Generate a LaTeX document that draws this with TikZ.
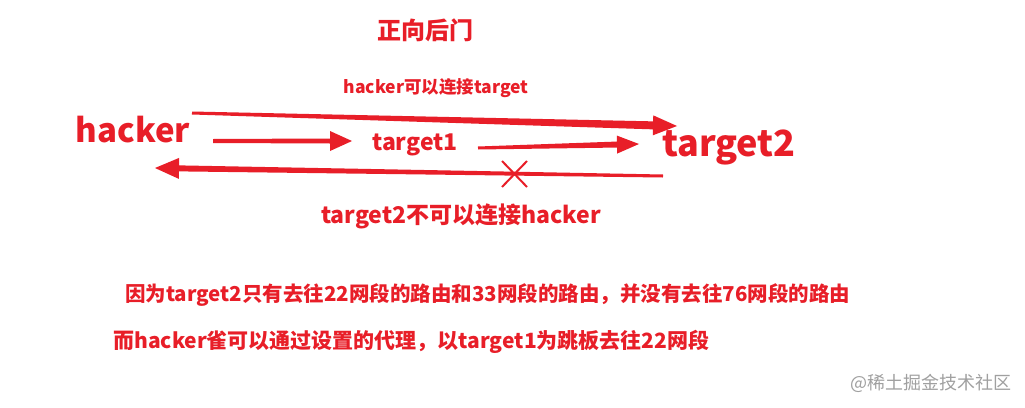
\documentclass[tikz,border=0pt]{standalone}
\usepackage{fontspec}
\setmainfont{Noto Sans CJK SC}
\usetikzlibrary{calc}
\definecolor{rd}{RGB}{232,30,40}
\definecolor{wm}{RGB}{160,160,160}
\newcommand\redarrow[6]{%
  \coordinate (hb) at ($(#2)!#5!(#1)$);
  \fill[rd] ($(#1)!#3!90:(#2)$) -- ($(hb)!#4!90:(#2)$) -- ($(hb)!#6!90:(#2)$) -- (#2)
    -- ($(hb)!#6!-90:(#2)$) -- ($(hb)!#4!-90:(#2)$) -- ($(#1)!#3!-90:(#2)$) -- cycle;
}
\tikzset{
  lbl/.style={text=rd, font=\bfseries, inner sep=0pt, anchor=center},
  cross/.style={draw=rd, line width=2pt},
}
\begin{document}
\begin{tikzpicture}[x=1pt,y=-1pt]
\useasboundingbox[fill=white] (0,0) rectangle (1025,407);
\node[lbl, font=\bfseries\fontsize{24}{28}\selectfont] (title) at (425,30) {正向后门};
\node[lbl, font=\bfseries\fontsize{17.5}{20}\selectfont] (l1) at (436,88) {hacker可以连接target};
\node[lbl, font=\bfseries\fontsize{33}{40}\selectfont] (hacker) at (133,130) {hacker};
\node[lbl, font=\bfseries\fontsize{23}{26}\selectfont] (t1) at (415,145) {target1};
\node[lbl, font=\bfseries\fontsize{36}{40}\selectfont] (t2) at (729,147) {target2};
\node[lbl, font=\bfseries\fontsize{23}{26}\selectfont] (l2) at (461,216) {target2不可以连接hacker};
\node[lbl, font=\bfseries\fontsize{20.5}{24}\selectfont, anchor=west] (n1) at (125,295) {因为target2只有去往22网段的路由和33网段的路由，并没有去往76网段的路由};
\node[lbl, font=\bfseries\fontsize{21}{24}\selectfont, anchor=west] (n2) at (113,342) {而hacker雀可以通过设置的代理，以target1为跳板去往22网段};
\node[text=wm, inner sep=0pt, anchor=west, font=\fontsize{18}{20}\selectfont] (wmk) at (850,383) {@稀土掘金技术社区};
\coordinate (a1s) at (192,113);
\coordinate (a1e) at (677,126);
\coordinate (a2s) at (213,141);
\coordinate (a2e) at (352,141);
\coordinate (a3s) at (478,148);
\coordinate (a3e) at (639,144);
\coordinate (a4s) at (663,176);
\coordinate (a4e) at (155,168);
\redarrow{a1s}{a1e}{1.5pt}{4pt}{24pt}{10pt}
\redarrow{a2s}{a2e}{2pt}{2.5pt}{22pt}{10pt}
\redarrow{a3s}{a3e}{1.5pt}{3pt}{22pt}{9pt}
\redarrow{a4s}{a4e}{1.5pt}{3pt}{24pt}{10.5pt}
\draw[cross] (502,161) -- (527,187) (527,161) -- (502,187);
\end{tikzpicture}
\end{document}
